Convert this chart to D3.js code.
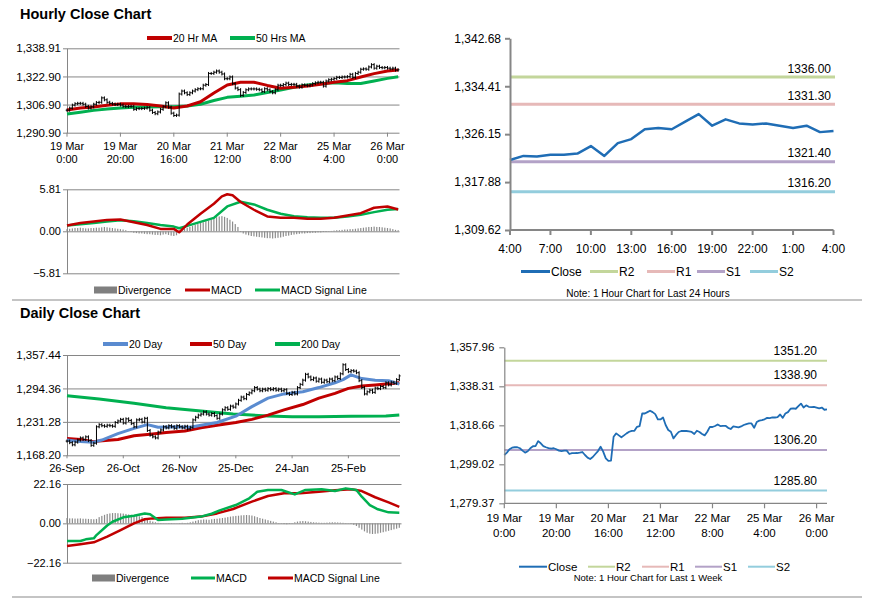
<!DOCTYPE html>
<html><head><meta charset="utf-8">
<script src="https://cdn.jsdelivr.net/npm/d3@7"></script>
<style>
body{margin:0;background:#fff;}
svg{display:block;font-family:'Liberation Sans',Arial,sans-serif;}
</style></head><body>
<svg id="chart" width="873" height="601"></svg>
<script>
// ---------------- DATA ----------------
// Hourly closes, 19 Mar 0:00 .. 26 Mar 4:00 (125 hourly points)
const hourlyClose = [
1303.7,1304.9,1306.6,1307.4,1307.6,1307.6,1307.1,1305.9,1304.9,1305.6,
1307.1,1308.1,1308.2,1310.7,1309.6,1308.2,1307.6,1307.2,1306.9,1307.1,
1306.6,1305.9,1305.7,1305.9,1305.9,1304.2,1304.6,1304.6,1304.7,1304.9,
1305.2,1303.7,1302.4,1301.7,1302.7,1304.2,1305.7,1307.9,1305.4,1302.0,
1300.7,1300.9,1312.9,1314.6,1313.6,1312.6,1313.6,1314.6,1315.4,1315.9,
1315.9,1317.9,1318.3,1324.6,1324.6,1325.3,1326.0,1325.3,1324.3,1321.6,
1321.6,1322.6,1318.8,1316.3,1315.4,1312.1,1313.8,1315.3,1315.8,1315.8,
1315.8,1315.6,1315.3,1314.3,1315.9,1315.3,1314.3,1313.6,1315.4,1317.9,
1317.8,1318.3,1319.1,1318.3,1318.4,1318.4,1317.4,1316.8,1318.1,1317.9,
1317.6,1318.1,1318.8,1319.3,1319.6,1319.6,1317.4,1320.3,1321.0,1321.3,
1321.7,1322.4,1322.3,1322.6,1322.6,1322.8,1324.1,1322.4,1324.6,1325.3,
1327.0,1327.2,1327.0,1328.3,1329.6,1327.6,1328.7,1328.0,1327.8,1328.0,
1327.6,1327.2,1327.6,1326.5,1326.7];
const hourTickIdx = [0,20,40,60,80,100,120];
const hourTickLabels = [["19 Mar","0:00"],["19 Mar","20:00"],["20 Mar","16:00"],["21 Mar","12:00"],["22 Mar","8:00"],["25 Mar","4:00"],["26 Mar","0:00"]];
const hourPriceTicks = [1290.90,1306.90,1322.90,1338.91];

const maIdx = [0,5,10,15,20,25,30,35,40,45,50,55,60,65,70,75,80,85,90,95,100,105,110,115,120,124];
const ma20hr = [1303.8,1305.0,1305.5,1306.5,1307.3,1307.3,1306.9,1306.1,1305.0,1306.1,1308.5,1313.5,1318.0,1319.6,1319.6,1317.8,1316.2,1316.8,1317.5,1318.5,1319.6,1320.5,1322.6,1324.5,1326.0,1326.5];
const ma50hr = [1301.5,1302.5,1303.6,1304.4,1305.0,1305.4,1305.5,1305.7,1305.7,1306.1,1307.1,1309.2,1311.0,1311.6,1312.3,1313.8,1315.2,1316.7,1318.0,1318.8,1319.3,1318.9,1318.9,1320.3,1321.8,1322.7];

const hMacdIdx = [0,5,10,15,20,25,30,35,40,41,42,45,50,55,58,60,62,65,70,75,80,85,90,95,100,105,110,115,120,124];
const hMacd = [0.79,1.16,1.35,1.58,1.63,1.26,0.88,0.33,0.33,0.1,-0.14,0.93,2.42,3.81,4.84,5.12,4.98,4.05,2.98,2.05,1.86,1.86,1.72,1.72,1.86,2.19,2.51,3.26,3.44,3.02];
const hSigIdx = [0,5,10,15,20,25,30,35,40,42,45,50,55,60,65,70,75,80,85,90,95,100,105,110,115,120,124];
const hSig = [0.79,0.98,1.16,1.35,1.53,1.40,1.16,0.88,0.65,0.42,0.75,1.30,1.86,3.44,4.09,3.72,2.98,2.42,2.09,1.95,1.86,1.86,2.05,2.28,2.65,2.98,3.07];
const hDiv = [
0.3,0.35,0.4,0.45,0.45,0.5,0.45,0.4,0.4,0.45,0.45,0.5,0.5,0.55,0.6,0.55,0.5,0.45,0.4,0.35,0.3,0.25,0.15,
-0.05,-0.1,-0.2,-0.25,-0.3,-0.3,-0.35,-0.4,-0.4,-0.45,-0.5,-0.5,-0.55,-0.45,-0.4,-0.5,-0.6,-0.65,-0.55,-0.2,
0.2,0.35,0.5,0.6,0.75,0.9,1.0,1.15,1.25,1.4,1.5,1.65,1.8,1.95,2.05,2.1,2.0,1.85,1.6,1.35,1.0,0.6,
-0.1,-0.3,-0.45,-0.55,-0.65,-0.7,-0.75,-0.8,-0.85,-0.9,-0.95,-0.95,-1.0,-0.95,-0.9,-0.85,-0.75,-0.65,-0.6,-0.5,-0.45,-0.4,-0.35,-0.3,-0.3,-0.25,-0.25,-0.2,-0.2,-0.15,-0.15,-0.1,-0.1,-0.05,
0.05,0.1,0.15,0.15,0.2,0.25,0.25,0.3,0.3,0.35,0.4,0.45,0.5,0.55,0.6,0.6,0.65,0.6,0.6,0.55,0.5,0.45,0.4,0.3,0.2,0.15];
const hMacdTicks = [-5.81,0,5.81];

// Last 24 hours chart
const dayTickLabels = ["4:00","7:00","10:00","13:00","16:00","19:00","22:00","1:00","4:00"];
const dayTickIdx = [0,3,6,9,12,15,18,21,24];
const dayPriceTicks = [1309.62,1317.88,1326.15,1334.41,1342.68];
const levelNames = ["R2","R1","S1","S2"];
const levels24h = [1336.00,1331.30,1321.40,1316.20];

// Last 1 week chart
const weekPriceTicks = [1279.37,1299.02,1318.66,1338.31,1357.96];
const levelsWeek = [1351.20,1338.90,1306.20,1285.80];

// Daily chart (26-Sep .. late Mar, 125 sessions)
const dailyClose = [
1195,1192,1188,1193,1197,1201,1198,1203,1196,1187,
1191,1222,1226,1224,1223,1225,1224,1223,1230,1233,
1236,1229,1237,1234,1228,1222,1235,1236,1231,1238,
1215,1206,1203,1201,1212,1216,1222,1220,1224,1222,
1219,1224,1222,1220,1223,1218,1221,1235,1240,1244,
1246,1250,1246,1244,1247,1243,1238,1246,1254,1258,
1255,1261,1259,1265,1272,1278,1275,1283,1286,1290,
1296,1293,1290,1293,1291,1294,1292,1294,1291,1293,
1290,1292,1285,1283,1287,1284,1296,1302,1310,1321,
1316,1311,1314,1308,1312,1306,1310,1307,1312,1309,
1316,1313,1322,1339,1330,1326,1328,1327,1324,1309,
1296,1284,1288,1291,1287,1295,1294,1298,1296,1305,
1301,1306,1304,1311,1318];
const dailyTickIdx = [0,21,42,63,84,105];
const dailyTickLabels = ["26-Sep","26-Oct","26-Nov","25-Dec","24-Jan","25-Feb"];
const dailyPriceTicks = [1168.20,1231.28,1294.36,1357.44];

const ma20dIdx = [0,5,10,13,19,25,30,34,40,46,50,56,63,69,75,81,88,94,100,103,106,110,115,120,124];
const ma20d = [1197,1194,1193,1197,1209,1219,1226,1221,1222,1221,1225,1230,1242,1260,1276,1284,1288,1296,1305,1311,1320,1313,1310,1309,1302.5];
const ma50dIdx = [0,5,10,12,19,25,31,37,44,50,56,63,69,75,81,88,94,100,105,110,115,120,124];
const ma50d = [1200,1198,1194,1195,1198,1205,1208,1211,1214,1220,1225,1230,1236,1244,1254,1264,1276,1285,1294.5,1299,1301,1303,1305];
const ma200dIdx = [0,12,25,37,50,62,75,84,94,106,119,124];
const ma200d = [1280.7,1274.4,1266.3,1258.1,1251.8,1246.2,1242.4,1241.1,1241.1,1241.7,1242.4,1244.3];

const dMacdIdx = [0,5,7,10,11,15,17,21,25,29,31,34,37,43,50,54,57,63,68,71,75,80,85,89,95,100,104,108,110,113,116,120,124];
const dMacd = [-9.95,-9.95,-9.0,-8.45,-6.6,-1.2,0.9,3.4,4.3,5.6,5.1,1.9,2.2,2.6,3.8,5.4,7.3,10.3,14.1,17.8,18.8,18.8,16.3,18.8,19.2,18.2,19.7,18.8,15.0,10.3,7.9,6.2,6.0];
const dSigIdx = [0,5,10,15,20,25,29,32,37,44,50,56,62,69,75,81,87,94,100,106,110,115,120,124];
const dSig = [-12.8,-11.8,-10.7,-7.5,-3.8,0.0,2.3,2.8,3.2,3.2,3.8,5.6,8.1,12.2,15.4,16.9,16.9,17.8,18.6,19.2,18.2,14.7,11.8,9.3];
const dDiv = [
3.0,2.8,2.8,2.7,2.7,2.8,2.6,2.6,2.5,2.4,2.3,2.5,
3.5,4.2,4.8,5.3,5.6,5.8,5.8,5.7,5.6,5.5,5.3,5.0,4.8,4.6,4.3,4.0,3.6,3.0,
2.2,1.5,1.0,0.6,0.3,0.2,
0.1,0.1,0.2,0.2,0.1,0.1,0.2,0.3,0.2,0.3,0.6,1.0,1.4,
1.8,2.0,2.2,2.1,2.0,2.3,2.5,2.6,2.8,3.0,3.2,3.5,3.8,4.0,4.2,4.3,
4.5,4.6,4.7,4.6,4.4,4.0,3.5,3.0,2.6,2.2,1.8,
1.4,1.0,0.6,0.2,-0.2,-0.4,-0.5,-0.3,0.2,
0.6,1.0,1.2,1.3,1.2,1.0,0.8,0.6,0.5,0.4,0.3,0.3,0.4,0.5,0.6,0.6,0.5,0.4,0.3,0.2,0.1,
-0.3,-0.8,-1.5,-2.5,-3.5,-4.5,-5.3,-5.8,-6.0,-5.9,-5.7,-5.3,-5.0,-4.6,-4.2,-3.8,-3.4,-3.0,-2.5];
const dMacdTicks = [-22.16,0,22.16];

// ---------------- DRAWING ----------------
const svg = d3.select("#chart");
const FONT = "'Liberation Sans', Arial, sans-serif";
const GRID = "#868686", RED = "#c00000", GREEN = "#00b050", BLUE20 = "#5a8bd0", CLOSE = "#1f6db5", DIVC = "#8c8c8c";
const levelColors = ["#c3d69b","#e6b9b8","#b3a2c7","#93cddd"];
const fmtPrice = d3.format(",.2f"), fmt2 = d3.format(".2f");

function yAxis(y, ticks, fmt, x0, x1, o) {
  if (o.grid) {
    svg.append("g").attr("transform", `translate(${x0},0)`)
      .call(d3.axisLeft(y).tickValues(ticks).tickSize(-(x1 - x0)).tickSizeOuter(0).tickFormat(""))
      .call(g => { g.select(".domain").remove(); g.selectAll(".tick line").attr("stroke", GRID).attr("stroke-width", 1); });
  }
  const g = svg.append("g").attr("transform", `translate(${x0},0)`)
    .call(d3.axisLeft(y).tickValues(ticks).tickSize(o.tick).tickSizeOuter(0).tickPadding(o.pad).tickFormat(fmt));
  g.attr("font-family", FONT).attr("font-size", o.fs);
  g.select(".domain").attr("stroke", GRID).attr("stroke-width", o.sw || 1);
  g.selectAll(".tick line").attr("stroke", GRID).attr("stroke-width", o.sw || 1);
  g.selectAll(".tick text").attr("fill", "#000");
}
function xLabels(x, idx, labels, yAxisPos, o) {
  idx.forEach((i, k) => {
    const px = x(i);
    if (o.tick) svg.append("line").attr("x1", px).attr("x2", px).attr("y1", yAxisPos).attr("y2", yAxisPos + o.tick)
      .attr("stroke", GRID).attr("stroke-width", o.sw || 1);
    const lab = labels[k];
    (Array.isArray(lab) ? lab : [lab]).forEach((t, j) =>
      svg.append("text").attr("x", px).attr("y", o.base + j * o.lh).attr("text-anchor", "middle")
        .attr("font-size", o.fs).text(t));
  });
}
function path(x, y, xs, ys, color, w) {
  svg.append("path").datum(xs.map((v, k) => [v, ys[k]]))
    .attr("fill", "none").attr("stroke", color).attr("stroke-width", w).attr("stroke-linejoin", "round")
    .attr("d", d3.line().x(d => x(d[0])).y(d => y(d[1])));
}
function legLine(x0, x1, y, color, w, label, fs) {
  svg.append("line").attr("x1", x0).attr("x2", x1).attr("y1", y).attr("y2", y).attr("stroke", color).attr("stroke-width", w);
  svg.append("text").attr("x", x1 + 1).attr("y", y).attr("dy", "0.35em").attr("font-size", fs).text(label);
}
function legBox(x0, x1, y, color, label, fs) {
  svg.append("rect").attr("x", x0).attr("y", y - 3.5).attr("width", x1 - x0).attr("height", 7).attr("fill", color);
  svg.append("text").attr("x", x1 + 1).attr("y", y).attr("dy", "0.35em").attr("font-size", fs).text(label);
}
function priceBars(x, y, data) {
  data.forEach((c, i) => {
    const o = i ? data[i - 1] : c;
    const px = x(i);
    let y1 = y(Math.max(o, c)) - 1.5, y2 = y(Math.min(o, c)) + 1.5;
    svg.append("line").attr("x1", px).attr("x2", px).attr("y1", y1).attr("y2", y2).attr("stroke", "#000").attr("stroke-width", 1);
    svg.append("line").attr("x1", px - 1.3).attr("x2", px).attr("y1", y(o)).attr("y2", y(o)).attr("stroke", "#000").attr("stroke-width", 1);
    svg.append("line").attr("x1", px).attr("x2", px + 1.3).attr("y1", y(c)).attr("y2", y(c)).attr("stroke", "#000").attr("stroke-width", 1);
  });
}
function divBars(x, y, data, color) {
  svg.append("g").selectAll("rect").data(data).join("rect")
    .attr("x", (d, i) => x(i) - 0.6).attr("width", 1.2)
    .attr("y", d => Math.min(y(d), y(0))).attr("height", d => Math.abs(y(d) - y(0)))
    .attr("fill", color);
}

// Titles & separators
svg.append("text").attr("x", 20).attr("y", 19).attr("font-size", 14.5).attr("font-weight", "bold").text("Hourly Close Chart");
svg.append("text").attr("x", 20).attr("y", 318).attr("font-size", 14.5).attr("font-weight", "bold").text("Daily Close Chart");
svg.append("line").attr("x1", 12).attr("x2", 862).attr("y1", 300).attr("y2", 300).attr("stroke", "#8a8a8a").attr("stroke-width", 1.2);
svg.append("line").attr("x1", 12).attr("x2", 862).attr("y1", 597).attr("y2", 597).attr("stroke", "#8a8a8a").attr("stroke-width", 1.2);

// ---- Panel 1: hourly price ----
{
  const x = d3.scaleLinear().domain([0, 124.5]).range([67, 399.5]);
  const y = d3.scaleLinear().domain([1290.90, 1338.91]).range([132.7, 48.3]);
  yAxis(y, hourPriceTicks, fmtPrice, 67, 399.5, { grid: true, tick: 4, pad: 2, fs: 11.5 });
  xLabels(x, hourTickIdx, hourTickLabels, 132.7, { tick: 4, base: 150, lh: 13, fs: 11 });
  path(x, y, maIdx, ma50hr, GREEN, 3);
  path(x, y, maIdx, ma20hr, RED, 3);
  priceBars(x, y, hourlyClose);
  legLine(147, 172, 38, RED, 4, "20 Hr MA", 10.5);
  legLine(230, 255, 38, GREEN, 4, "50 Hrs MA", 10.5);
}
// ---- Panel 2: hourly MACD ----
{
  const x = d3.scaleLinear().domain([0, 124.5]).range([67, 399.5]);
  const y = d3.scaleLinear().domain([-5.81, 5.81]).range([273.3, 189.3]);
  yAxis(y, hMacdTicks, fmt2, 67, 399.5, { grid: true, tick: 4, pad: 2, fs: 11 });
  divBars(x, y, hDiv, DIVC);
  path(x, y, hSigIdx, hSig, GREEN, 2.5);
  path(x, y, hMacdIdx, hMacd, RED, 2.5);
  legBox(94, 117, 290, "#7f7f7f", "Divergence", 10.5);
  legLine(185, 210, 290, RED, 3, "MACD", 10.5);
  legLine(255, 280, 290, GREEN, 3, "MACD Signal Line", 10.5);
}
// ---- Panel 3: last 24 hours ----
{
  const last24 = hourlyClose.slice(-25);
  const x = d3.scaleLinear().domain([0, 24]).range([510, 833.5]);
  const y = d3.scaleLinear().domain([1309.62, 1342.68]).range([230, 38.3]);
  levels24h.forEach((v, k) => {
    svg.append("line").attr("x1", x(0)).attr("x2", x(24) + 1.5).attr("y1", y(v)).attr("y2", y(v))
      .attr("stroke", levelColors[k]).attr("stroke-width", 3);
    svg.append("text").attr("x", 831).attr("y", y(v) - 4.5).attr("text-anchor", "end").attr("font-size", 12).text(v.toFixed(2));
  });
  path(x, y, d3.range(25), last24, CLOSE, 2.5);
  yAxis(y, dayPriceTicks, fmtPrice, 510, 833.5, { grid: false, tick: 5, pad: 4, fs: 12, sw: 2 });
  svg.append("line").attr("x1", 510).attr("x2", x(24)).attr("y1", 230).attr("y2", 230).attr("stroke", GRID).attr("stroke-width", 2);
  xLabels(x, dayTickIdx, dayTickLabels, 230, { tick: 5, sw: 2, base: 253, lh: 13, fs: 12 });
  legLine(521, 550, 271.5, CLOSE, 3, "Close", 12);
  levelNames.forEach((n, k) => {
    const xs = [590, 647, 697, 750][k];
    legLine(xs, xs + 28, 271.5, levelColors[k], 3, n, 12);
  });
  svg.append("text").attr("x", 648).attr("y", 296.5).attr("text-anchor", "middle").attr("font-size", 10).text("Note: 1 Hour Chart for Last 24 Hours");
}
// ---- Panel 4: daily price ----
{
  const x = d3.scaleLinear().domain([0, 124]).range([67, 399.3]);
  const y = d3.scaleLinear().domain([1168.20, 1357.44]).range([455.3, 355]);
  yAxis(y, dailyPriceTicks, fmtPrice, 67, 400, { grid: true, tick: 4, pad: 2, fs: 11.5 });
  xLabels(x, dailyTickIdx, dailyTickLabels, 455.3, { tick: 3, base: 472, lh: 13, fs: 11 });
  path(x, y, ma200dIdx, ma200d, GREEN, 3);
  path(x, y, ma50dIdx, ma50d, RED, 3);
  path(x, y, ma20dIdx, ma20d, BLUE20, 3);
  priceBars(x, y, dailyClose);
  legLine(103, 128, 344, BLUE20, 4, "20 Day", 10.5);
  legLine(190, 212, 344, RED, 4, "50 Day", 10.5);
  legLine(275, 300, 344, GREEN, 4, "200 Day", 10.5);
}
// ---- Panel 5: daily MACD ----
{
  const x = d3.scaleLinear().domain([0, 124]).range([67, 399.3]);
  const y = d3.scaleLinear().domain([-22.16, 22.16]).range([562.7, 484]);
  yAxis(y, dMacdTicks, fmt2, 67, 401.5, { grid: true, tick: 4, pad: 2, fs: 11 });
  divBars(x, y, dDiv, DIVC);
  path(x, y, dSigIdx, dSig, RED, 2.5);
  path(x, y, dMacdIdx, dMacd, GREEN, 2.5);
  legBox(92, 115, 578, "#7f7f7f", "Divergence", 10.5);
  legLine(191, 215, 578, GREEN, 3, "MACD", 10.5);
  legLine(268, 293, 578, RED, 3, "MACD Signal Line", 10.5);
}
// ---- Panel 6: last 1 week ----
{
  const x = d3.scaleLinear().domain([0, 124]).range([504.3, 827]);
  const y = d3.scaleLinear().domain([1279.37, 1357.96]).range([503.3, 347.3]);
  levelsWeek.forEach((v, k) => {
    svg.append("line").attr("x1", x(0)).attr("x2", x(124)).attr("y1", y(v)).attr("y2", y(v))
      .attr("stroke", levelColors[k]).attr("stroke-width", 2);
    svg.append("text").attr("x", 817).attr("y", y(v) - 6).attr("text-anchor", "end").attr("font-size", 12).text(v.toFixed(2));
  });
  path(x, y, d3.range(hourlyClose.length), hourlyClose, CLOSE, 1.8);
  yAxis(y, weekPriceTicks, fmtPrice, 504.3, 827, { grid: false, tick: 5, pad: 5, fs: 11.5, sw: 1.2 });
  svg.append("line").attr("x1", 504.3).attr("x2", 827).attr("y1", 503.3).attr("y2", 503.3).attr("stroke", GRID).attr("stroke-width", 1.2);
  xLabels(x, hourTickIdx, hourTickLabels, 503.3, { tick: 5, sw: 1.2, base: 522, lh: 15, fs: 11.5 });
  legLine(519, 547, 566.7, CLOSE, 2, "Close", 11.5);
  levelNames.forEach((n, k) => {
    const xs = [588, 642, 695, 748][k];
    legLine(xs, xs + 27, 566.7, levelColors[k], 2, n, 11.5);
  });
  svg.append("text").attr("x", 648).attr("y", 581).attr("text-anchor", "middle").attr("font-size", 9.5).text("Note: 1 Hour Chart for Last 1 Week");
}
</script>
</body></html>
